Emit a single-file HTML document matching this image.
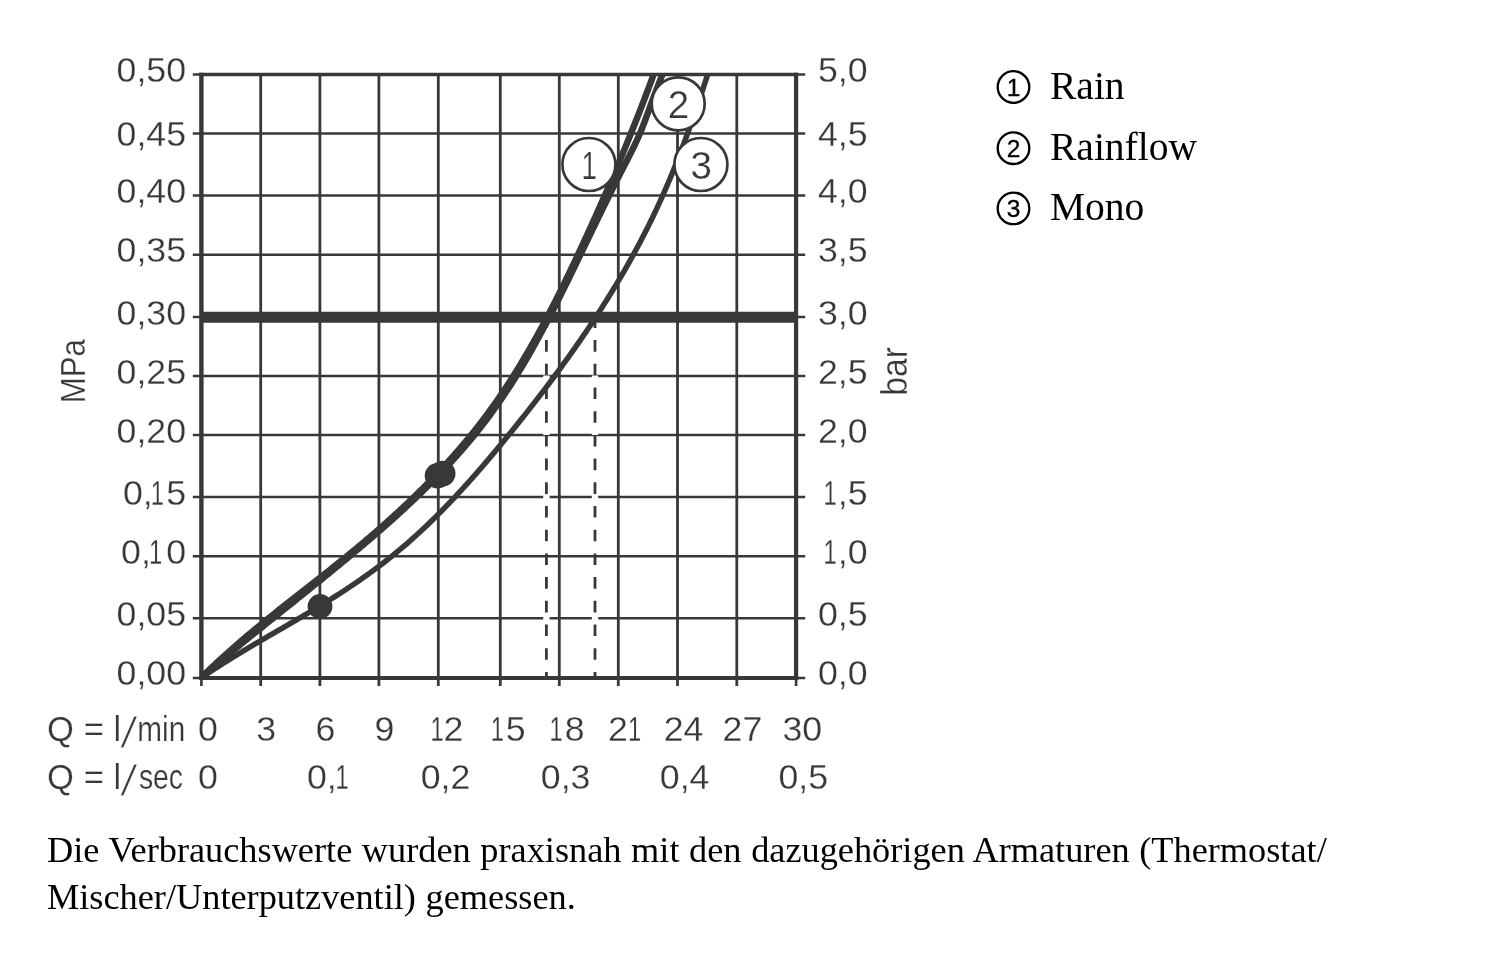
<!DOCTYPE html>
<html lang="de"><head><meta charset="utf-8"><title>Durchflussdiagramm</title>
<style>
html,body{margin:0;padding:0;background:#fff}
body{width:1500px;height:956px;position:relative;overflow:hidden}
svg,.note{filter:grayscale(1)}
.note{position:absolute;left:47px;top:826.8px;margin:0;width:1400px;font-family:"Liberation Serif",serif;font-size:36.3px;word-spacing:0.55px;line-height:47.2px;color:#000;white-space:nowrap}
</style></head><body>
<svg width="1500" height="956" viewBox="0 0 1500 956" style="position:absolute;left:0;top:0">
<g fill="none" stroke="#383838" stroke-linecap="butt">
<line x1="260.7" y1="74.5" x2="260.7" y2="686" stroke-width="2.8"/>
<line x1="319.9" y1="74.5" x2="319.9" y2="686" stroke-width="2.8"/>
<line x1="378.9" y1="74.5" x2="378.9" y2="686" stroke-width="2.8"/>
<line x1="438.3" y1="74.5" x2="438.3" y2="686" stroke-width="2.8"/>
<line x1="500.3" y1="74.5" x2="500.3" y2="686" stroke-width="2.8"/>
<line x1="559.3" y1="74.5" x2="559.3" y2="686" stroke-width="2.8"/>
<line x1="618.3" y1="74.5" x2="618.3" y2="686" stroke-width="2.8"/>
<line x1="677.5" y1="74.5" x2="677.5" y2="686" stroke-width="2.8"/>
<line x1="736.8" y1="74.5" x2="736.8" y2="686" stroke-width="2.8"/>
<line x1="192.8" y1="133.4" x2="805.2" y2="133.4" stroke-width="2.5"/>
<line x1="192.8" y1="195.6" x2="805.2" y2="195.6" stroke-width="2.5"/>
<line x1="192.8" y1="254.7" x2="805.2" y2="254.7" stroke-width="2.5"/>
<line x1="192.8" y1="376.1" x2="805.2" y2="376.1" stroke-width="2.5"/>
<line x1="192.8" y1="435.1" x2="805.2" y2="435.1" stroke-width="2.5"/>
<line x1="192.8" y1="497.1" x2="805.2" y2="497.1" stroke-width="2.5"/>
<line x1="192.8" y1="556.3" x2="805.2" y2="556.3" stroke-width="2.5"/>
<line x1="192.8" y1="618.3" x2="805.2" y2="618.3" stroke-width="2.5"/>
<line x1="192.8" y1="74.5" x2="805.2" y2="74.5" stroke-width="2.4"/>
<line x1="192.8" y1="317.0" x2="805.2" y2="317.0" stroke-width="2.4"/>
<line x1="192.8" y1="678.0" x2="805.2" y2="678.0" stroke-width="2.4"/>
<line x1="201.4" y1="72.7" x2="201.4" y2="679.9" stroke-width="4.4"/>
<line x1="796.1" y1="72.7" x2="796.1" y2="679.9" stroke-width="4.2"/>
<line x1="201.4" y1="678.0" x2="201.4" y2="686" stroke-width="2.6"/>
<line x1="796.1" y1="678.0" x2="796.1" y2="686" stroke-width="2.6"/>
<line x1="199.20000000000002" y1="74.5" x2="798.2" y2="74.5" stroke-width="3.6"/>
<line x1="199.20000000000002" y1="678.0" x2="798.2" y2="678.0" stroke-width="3.8"/>
<line x1="546.4" y1="316.4" x2="546.4" y2="677" stroke-width="2.8"/>
<line x1="546.4" y1="316.4" x2="546.4" y2="676" stroke="#fff" stroke-width="6.4" stroke-dasharray="12.1 11.6" stroke-dashoffset="12.1"/>
<line x1="595.0" y1="316.4" x2="595.0" y2="677" stroke-width="2.8"/>
<line x1="595.0" y1="316.4" x2="595.0" y2="676" stroke="#fff" stroke-width="6.4" stroke-dasharray="12.1 11.6" stroke-dashoffset="12.1"/>
<line x1="201.4" y1="317.2" x2="796.1" y2="317.2" stroke-width="11"/>
</g>
<clipPath id="plot"><rect x="201.4" y="74.5" width="594.7" height="605.4"/></clipPath>
<g fill="none" stroke="#383838" stroke-linejoin="round" stroke-linecap="butt" clip-path="url(#plot)">
<path d="M201.34,677.87 L203.92,676.08 L206.51,674.31 L209.11,672.55 L211.73,670.80 L214.35,669.07 L216.99,667.35 L219.63,665.64 L222.28,663.94 L224.94,662.25 L227.61,660.57 L230.29,658.90 L232.97,657.24 L235.66,655.58 L238.36,653.94 L241.06,652.30 L243.77,650.67 L246.48,649.04 L249.20,647.43 L251.92,645.81 L254.65,644.20 L257.38,642.60 L260.12,641.00 L262.85,639.40 L265.59,637.81 L268.34,636.21 L271.08,634.62 L273.82,633.03 L276.57,631.45 L279.32,629.86 L282.06,628.27 L284.81,626.68 L287.56,625.09 L290.30,623.50 L293.04,621.90 L295.78,620.30 L298.52,618.70 L301.26,617.10 L303.99,615.49 L306.72,613.87 L309.45,612.25 L312.17,610.63 L314.89,609.00 L317.60,607.36 L320.31,605.71 L323.01,604.06 L325.70,602.39 L328.39,600.72 L331.08,599.04 L333.75,597.35 L336.42,595.66 L339.08,593.95 L341.73,592.23 L344.38,590.50 L347.02,588.77 L349.65,587.02 L352.27,585.26 L354.88,583.49 L357.48,581.71 L360.08,579.91 L362.66,578.11 L365.23,576.29 L367.80,574.46 L370.35,572.62 L372.90,570.76 L375.43,568.90 L377.95,567.01 L380.46,565.12 L382.96,563.21 L385.45,561.29 L387.92,559.35 L390.39,557.39 L392.84,555.43 L395.27,553.44 L397.70,551.45 L400.11,549.43 L402.51,547.41 L404.90,545.36 L407.28,543.31 L409.64,541.24 L411.99,539.16 L414.34,537.06 L416.67,534.95 L418.99,532.83 L421.29,530.69 L423.59,528.54 L425.88,526.38 L428.15,524.21 L430.42,522.03 L432.68,519.83 L434.92,517.62 L437.16,515.41 L439.38,513.18 L441.60,510.94 L443.81,508.69 L446.01,506.43 L448.20,504.16 L450.38,501.88 L452.55,499.59 L454.72,497.29 L456.87,494.98 L459.02,492.67 L461.16,490.35 L463.29,488.01 L465.42,485.67 L467.53,483.32 L469.64,480.97 L471.75,478.61 L473.84,476.24 L475.93,473.86 L478.01,471.47 L480.09,469.08 L482.16,466.69 L484.22,464.29 L486.28,461.88 L488.33,459.47 L490.38,457.05 L492.42,454.62 L494.46,452.20 L496.49,449.76 L498.51,447.33 L500.53,444.89 L502.55,442.44 L504.56,439.99 L506.57,437.54 L508.57,435.09 L510.57,432.63 L512.57,430.17 L514.56,427.71 L516.55,425.24 L518.53,422.77 L520.51,420.30 L522.48,417.82 L524.45,415.34 L526.42,412.86 L528.38,410.37 L530.33,407.88 L532.28,405.39 L534.23,402.89 L536.17,400.39 L538.10,397.89 L540.03,395.38 L541.95,392.87 L543.87,390.36 L545.78,387.84 L547.69,385.32 L549.59,382.79 L551.49,380.26 L553.38,377.73 L555.26,375.19 L557.14,372.65 L559.01,370.10 L560.88,367.55 L562.73,365.00 L564.59,362.44 L566.43,359.88 L568.27,357.32 L570.10,354.75 L571.93,352.17 L573.75,349.59 L575.56,347.01 L577.37,344.42 L579.16,341.83 L580.96,339.23 L582.74,336.63 L584.52,334.03 L586.28,331.42 L588.05,328.80 L589.80,326.19 L591.54,323.56 L593.28,320.93 L595.01,318.30 L596.74,315.66 L598.45,313.02 L600.16,310.37 L601.85,307.72 L603.54,305.06 L605.22,302.39 L606.90,299.73 L608.56,297.05 L610.22,294.37 L611.86,291.69 L613.50,289.00 L615.13,286.31 L616.75,283.61 L618.36,280.90 L619.96,278.19 L621.56,275.48 L623.14,272.76 L624.71,270.03 L626.28,267.30 L627.83,264.56 L629.38,261.81 L630.91,259.07 L632.44,256.31 L633.95,253.55 L635.46,250.78 L636.95,248.01 L638.44,245.23 L639.91,242.45 L641.38,239.66 L642.83,236.86 L644.27,234.06 L645.71,231.25 L647.13,228.44 L648.54,225.61 L649.94,222.79 L651.33,219.95 L652.71,217.11 L654.08,214.27 L655.43,211.42 L656.78,208.56 L658.11,205.69 L659.43,202.82 L660.74,199.94 L662.04,197.06 L663.33,194.17 L664.60,191.27 L665.87,188.36 L667.12,185.45 L668.36,182.54 L669.59,179.62 L670.81,176.69 L672.02,173.76 L673.22,170.82 L674.41,167.88 L675.59,164.93 L676.76,161.98 L677.92,159.02 L679.07,156.07 L680.22,153.10 L681.35,150.14 L682.47,147.17 L683.59,144.19 L684.70,141.22 L685.80,138.24 L686.89,135.26 L687.98,132.28 L689.05,129.29 L690.12,126.30 L691.18,123.31 L692.24,120.32 L693.29,117.33 L694.33,114.34 L695.37,111.35 L696.40,108.35 L697.42,105.36 L698.44,102.37 L699.45,99.37 L700.46,96.38 L701.46,93.38 L702.46,90.39 L703.45,87.40 L704.44,84.41 L705.43,81.42 L706.41,78.43 L707.38,75.44 L708.35,72.46 L709.32,69.48 L710.29,66.50" stroke-width="5.5"/>
<path d="M200.88,677.37 L202.77,675.77 L204.65,674.17 L206.54,672.57 L208.43,670.98 L210.32,669.39 L212.22,667.80 L214.11,666.22 L216.00,664.64 L217.90,663.06 L219.79,661.49 L221.69,659.92 L223.59,658.35 L225.49,656.78 L227.39,655.22 L229.28,653.65 L231.19,652.09 L233.09,650.54 L234.99,648.98 L236.89,647.43 L238.79,645.87 L240.70,644.32 L242.60,642.78 L244.51,641.23 L246.41,639.68 L248.32,638.14 L250.22,636.60 L252.13,635.06 L254.03,633.52 L255.94,631.98 L257.85,630.44 L259.76,628.91 L261.66,627.37 L263.57,625.84 L265.48,624.31 L267.39,622.78 L269.30,621.24 L271.21,619.71 L273.11,618.18 L275.02,616.66 L276.93,615.13 L278.84,613.60 L280.75,612.07 L282.66,610.54 L284.57,609.01 L286.47,607.48 L288.38,605.96 L290.29,604.43 L292.20,602.90 L294.10,601.37 L296.01,599.84 L297.92,598.31 L299.83,596.78 L301.73,595.25 L303.64,593.72 L305.54,592.19 L307.45,590.66 L309.35,589.13 L311.26,587.59 L313.16,586.06 L315.06,584.52 L316.96,582.98 L318.87,581.44 L320.77,579.90 L322.67,578.36 L324.57,576.82 L326.47,575.27 L328.36,573.73 L330.26,572.18 L332.16,570.63 L334.05,569.08 L335.95,567.53 L337.84,565.97 L339.73,564.41 L341.63,562.85 L343.52,561.29 L345.41,559.73 L347.30,558.16 L349.18,556.59 L351.07,555.02 L352.95,553.45 L354.84,551.87 L356.72,550.29 L358.60,548.71 L360.48,547.13 L362.36,545.54 L364.24,543.95 L366.11,542.35 L367.98,540.76 L369.85,539.16 L371.72,537.55 L373.59,535.95 L375.45,534.34 L377.31,532.73 L379.17,531.11 L381.03,529.49 L382.88,527.87 L384.73,526.24 L386.58,524.61 L388.42,522.98 L390.26,521.34 L392.10,519.70 L393.93,518.05 L395.76,516.40 L397.59,514.75 L399.41,513.09 L401.23,511.43 L403.04,509.76 L404.85,508.09 L406.66,506.42 L408.46,504.74 L410.25,503.06 L412.05,501.37 L413.83,499.68 L415.62,497.99 L417.40,496.28 L419.17,494.58 L420.94,492.87 L422.70,491.16 L424.46,489.44 L426.21,487.71 L427.96,485.98 L429.70,484.25 L431.43,482.51 L433.16,480.76 L434.89,479.02 L436.60,477.26 L438.32,475.50 L440.02,473.74 L441.72,471.97 L443.41,470.19 L445.10,468.41 L446.78,466.62 L448.45,464.83 L450.11,463.03 L451.77,461.23 L453.42,459.42 L455.07,457.60 L456.70,455.78 L458.33,453.95 L459.95,452.12 L461.57,450.28 L463.17,448.43 L464.77,446.58 L466.36,444.73 L467.94,442.86 L469.52,440.99 L471.08,439.11 L472.64,437.23 L474.19,435.34 L475.73,433.44 L477.26,431.54 L478.78,429.63 L480.30,427.72 L481.80,425.79 L483.30,423.86 L484.78,421.93 L486.26,419.98 L487.73,418.03 L489.18,416.07 L490.63,414.11 L492.07,412.14 L493.50,410.16 L494.92,408.17 L496.33,406.18 L497.73,404.18 L499.13,402.18 L500.51,400.17 L501.89,398.15 L503.26,396.13 L504.62,394.10 L505.97,392.06 L507.31,390.02 L508.65,387.98 L509.98,385.92 L511.30,383.87 L512.61,381.80 L513.91,379.73 L515.21,377.66 L516.50,375.58 L517.78,373.50 L519.06,371.41 L520.33,369.32 L521.59,367.22 L522.85,365.11 L524.10,363.01 L525.34,360.89 L526.57,358.78 L527.80,356.66 L529.03,354.53 L530.25,352.40 L531.46,350.27 L532.66,348.13 L533.87,345.99 L535.06,343.85 L536.25,341.70 L537.43,339.55 L538.61,337.39 L539.79,335.24 L540.96,333.07 L542.12,330.91 L543.28,328.74 L544.44,326.57 L545.59,324.40 L546.73,322.22 L547.88,320.05 L549.01,317.86 L550.15,315.68 L551.28,313.50 L552.40,311.31 L553.53,309.12 L554.64,306.93 L555.76,304.73 L556.87,302.54 L557.98,300.34 L559.09,298.14 L560.19,295.94 L561.29,293.74 L562.39,291.53 L563.48,289.33 L564.58,287.12 L565.67,284.91 L566.75,282.71 L567.84,280.50 L568.92,278.29 L570.00,276.08 L571.08,273.87 L572.16,271.65 L573.24,269.44 L574.31,267.23 L575.39,265.02 L576.46,262.81 L577.53,260.59 L578.60,258.38 L579.67,256.17 L580.74,253.96 L581.81,251.74 L582.87,249.53 L583.94,247.32 L585.01,245.11 L586.08,242.90 L587.14,240.70 L588.21,238.49 L589.28,236.28 L590.34,234.07 L591.41,231.87 L592.48,229.66 L593.55,227.46 L594.61,225.26 L595.68,223.05 L596.75,220.85 L597.83,218.65 L598.90,216.45 L599.97,214.25 L601.05,212.05 L602.12,209.85 L603.20,207.66 L604.28,205.46 L605.36,203.26 L606.44,201.07 L607.53,198.87 L608.61,196.68 L609.70,194.49 L610.79,192.29 L611.88,190.10 L612.98,187.91 L614.07,185.72 L615.17,183.53 L616.28,181.34 L617.38,179.15 L618.49,176.97 L619.60,174.78 L620.71,172.59 L621.83,170.41 L622.95,168.22 L624.08,166.04 L625.20,163.86 L626.33,161.67 L627.45,159.49 L628.57,157.30 L629.68,155.11 L630.79,152.92 L631.89,150.72 L632.98,148.52 L634.05,146.31 L635.11,144.10 L636.16,141.88 L637.19,139.65 L638.20,137.42 L639.18,135.17 L640.15,132.92 L641.09,130.65 L642.01,128.38 L642.91,126.10 L643.79,123.82 L644.66,121.53 L645.53,119.23 L646.38,116.93 L647.23,114.63 L648.07,112.32 L648.92,110.02 L649.76,107.72 L650.61,105.42 L651.46,103.11 L652.32,100.81 L653.18,98.52 L654.04,96.22 L654.90,93.92 L655.77,91.63 L656.65,89.34 L657.53,87.05 L658.41,84.76 L659.30,82.47 L660.19,80.18 L661.09,77.90 L661.99,75.62 L662.90,73.34 L663.81,71.07 L664.74,68.80 L665.66,66.53" stroke-width="6.5"/>
<path d="M201.37,677.67 L203.10,675.94 L204.83,674.22 L206.58,672.51 L208.33,670.81 L210.08,669.11 L211.84,667.43 L213.61,665.75 L215.39,664.08 L217.17,662.41 L218.95,660.75 L220.74,659.10 L222.54,657.45 L224.34,655.81 L226.15,654.18 L227.96,652.56 L229.78,650.93 L231.60,649.32 L233.43,647.71 L235.26,646.11 L237.09,644.51 L238.93,642.92 L240.78,641.33 L242.63,639.75 L244.48,638.17 L246.34,636.59 L248.20,635.03 L250.06,633.46 L251.93,631.90 L253.80,630.34 L255.67,628.79 L257.55,627.24 L259.43,625.70 L261.32,624.16 L263.20,622.62 L265.09,621.08 L266.98,619.55 L268.88,618.02 L270.78,616.49 L272.67,614.97 L274.58,613.45 L276.48,611.93 L278.38,610.41 L280.29,608.90 L282.20,607.38 L284.11,605.87 L286.02,604.36 L287.93,602.85 L289.85,601.34 L291.76,599.84 L293.68,598.33 L295.60,596.82 L297.51,595.32 L299.43,593.82 L301.35,592.31 L303.27,590.81 L305.19,589.30 L307.11,587.80 L309.03,586.30 L310.95,584.79 L312.87,583.29 L314.79,581.78 L316.70,580.27 L318.62,578.76 L320.54,577.25 L322.46,575.74 L324.37,574.23 L326.29,572.72 L328.20,571.20 L330.11,569.68 L332.02,568.17 L333.93,566.64 L335.84,565.12 L337.74,563.59 L339.65,562.06 L341.55,560.53 L343.45,558.99 L345.35,557.46 L347.24,555.91 L349.13,554.37 L351.02,552.82 L352.91,551.27 L354.79,549.71 L356.68,548.15 L358.56,546.59 L360.43,545.02 L362.30,543.45 L364.17,541.87 L366.04,540.29 L367.90,538.71 L369.76,537.12 L371.62,535.53 L373.47,533.94 L375.32,532.34 L377.17,530.73 L379.01,529.13 L380.85,527.51 L382.68,525.90 L384.51,524.28 L386.34,522.65 L388.16,521.02 L389.98,519.39 L391.79,517.75 L393.60,516.11 L395.41,514.46 L397.21,512.81 L399.01,511.16 L400.80,509.50 L402.58,507.83 L404.37,506.16 L406.14,504.49 L407.92,502.81 L409.69,501.13 L411.45,499.44 L413.21,497.74 L414.96,496.05 L416.71,494.34 L418.45,492.64 L420.19,490.92 L421.92,489.21 L423.64,487.48 L425.36,485.76 L427.08,484.02 L428.79,482.29 L430.49,480.55 L432.19,478.80 L433.88,477.04 L435.56,475.29 L437.24,473.52 L438.92,471.76 L440.58,469.98 L442.24,468.20 L443.90,466.42 L445.54,464.63 L447.19,462.83 L448.82,461.03 L450.45,459.23 L452.07,457.41 L453.68,455.60 L455.29,453.77 L456.89,451.95 L458.48,450.11 L460.07,448.27 L461.65,446.43 L463.22,444.57 L464.79,442.72 L466.34,440.85 L467.89,438.99 L469.44,437.11 L470.97,435.23 L472.50,433.34 L474.02,431.45 L475.53,429.55 L477.03,427.65 L478.53,425.74 L480.01,423.82 L481.49,421.90 L482.96,419.97 L484.43,418.03 L485.88,416.09 L487.33,414.15 L488.77,412.19 L490.20,410.23 L491.62,408.27 L493.03,406.29 L494.44,404.32 L495.83,402.33 L497.22,400.34 L498.60,398.35 L499.98,396.35 L501.35,394.34 L502.70,392.33 L504.06,390.31 L505.40,388.29 L506.74,386.26 L508.07,384.23 L509.39,382.19 L510.71,380.15 L512.01,378.10 L513.32,376.05 L514.61,373.99 L515.90,371.92 L517.18,369.86 L518.46,367.79 L519.72,365.71 L520.99,363.63 L522.24,361.54 L523.49,359.45 L524.73,357.36 L525.97,355.26 L527.20,353.16 L528.43,351.05 L529.65,348.94 L530.86,346.83 L532.07,344.71 L533.27,342.59 L534.47,340.46 L535.66,338.33 L536.84,336.20 L538.02,334.07 L539.20,331.93 L540.37,329.78 L541.53,327.64 L542.69,325.49 L543.85,323.34 L545.00,321.18 L546.14,319.02 L547.28,316.86 L548.42,314.70 L549.55,312.53 L550.67,310.36 L551.80,308.19 L552.91,306.01 L554.03,303.84 L555.14,301.66 L556.24,299.48 L557.34,297.29 L558.44,295.10 L559.53,292.92 L560.62,290.73 L561.71,288.53 L562.79,286.34 L563.87,284.14 L564.95,281.94 L566.02,279.74 L567.09,277.54 L568.15,275.34 L569.22,273.14 L570.27,270.93 L571.33,268.72 L572.38,266.51 L573.44,264.30 L574.48,262.09 L575.53,259.88 L576.57,257.67 L577.61,255.46 L578.65,253.24 L579.68,251.03 L580.72,248.81 L581.75,246.59 L582.77,244.38 L583.80,242.16 L584.82,239.94 L585.85,237.72 L586.87,235.50 L587.88,233.28 L588.90,231.06 L589.91,228.84 L590.92,226.62 L591.93,224.40 L592.94,222.17 L593.95,219.95 L594.95,217.73 L595.95,215.50 L596.95,213.27 L597.94,211.05 L598.93,208.82 L599.93,206.59 L600.91,204.36 L601.90,202.13 L602.89,199.90 L603.87,197.67 L604.85,195.44 L605.82,193.21 L606.80,190.98 L607.77,188.74 L608.74,186.51 L609.71,184.27 L610.68,182.03 L611.64,179.80 L612.60,177.56 L613.56,175.32 L614.51,173.08 L615.47,170.84 L616.42,168.59 L617.37,166.35 L618.31,164.11 L619.26,161.86 L620.20,159.61 L621.14,157.37 L622.07,155.12 L623.01,152.87 L623.94,150.62 L624.86,148.37 L625.79,146.11 L626.71,143.86 L627.64,141.61 L628.55,139.35 L629.47,137.09 L630.38,134.83 L631.29,132.57 L632.20,130.31 L633.11,128.05 L634.01,125.79 L634.91,123.53 L635.81,121.26 L636.70,118.99 L637.59,116.73 L638.48,114.46 L639.37,112.19 L640.25,109.91 L641.13,107.64 L642.01,105.37 L642.89,103.09 L643.76,100.81 L644.63,98.54 L645.50,96.26 L646.36,93.97 L647.22,91.69 L648.08,89.41 L648.94,87.12 L649.79,84.84 L650.64,82.55 L651.49,80.26 L652.33,77.97 L653.18,75.67 L654.02,73.38 L654.85,71.08 L655.68,68.79 L656.52,66.49" stroke-width="6.5"/>
</g>
<g fill="#383838">
<circle cx="437.5" cy="475.8" r="12.8"/><circle cx="442.7" cy="473.6" r="12.8"/>
<circle cx="320.0" cy="606.4" r="12.4"/>
</g>
<g fill="#fff" stroke="#383838" stroke-width="2.7">
<circle cx="588.9" cy="164.5" r="26.5"/>
<circle cx="678.2" cy="103.8" r="26.5"/>
<circle cx="700.9" cy="164.5" r="26.5"/>
</g>
<g fill="#383838" stroke="#fff" stroke-width="0.25" font-family="'Liberation Sans', sans-serif" font-size="35">
<text transform="translate(589.20,178.70) scale(0.72,1)" text-anchor="middle" font-size="38.5">1</text>
<text transform="translate(678.50,118.00) scale(1.0,1)" text-anchor="middle" font-size="38.5">2</text>
<text transform="translate(701.20,178.70) scale(1.0,1)" text-anchor="middle" font-size="38.5">3</text>
<text transform="translate(186.00,82.40) scale(1.02,1)" text-anchor="end">0,50</text>
<text transform="translate(186.00,146.10) scale(1.02,1)" text-anchor="end">0,45</text>
<text transform="translate(186.00,203.40) scale(1.02,1)" text-anchor="end">0,40</text>
<text transform="translate(186.00,262.40) scale(1.02,1)" text-anchor="end">0,35</text>
<text transform="translate(186.00,324.50) scale(1.02,1)" text-anchor="end">0,30</text>
<text transform="translate(186.00,383.50) scale(1.02,1)" text-anchor="end">0,25</text>
<text transform="translate(186.00,442.70) scale(1.02,1)" text-anchor="end">0,20</text>
<g><text transform="translate(122.90,505.30) scale(1.02,1)" text-anchor="start">0,</text><text transform="translate(157.30,505.30) scale(0.68,1)" text-anchor="middle">1</text><text transform="translate(186.00,505.30) scale(1.02,1)" text-anchor="end">5</text></g>
<g><text transform="translate(121.10,564.30) scale(1.02,1)" text-anchor="start">0,</text><text transform="translate(155.50,564.30) scale(0.68,1)" text-anchor="middle">1</text><text transform="translate(186.00,564.30) scale(1.02,1)" text-anchor="end">0</text></g>
<text transform="translate(186.00,626.40) scale(1.02,1)" text-anchor="end">0,05</text>
<text transform="translate(186.00,685.20) scale(1.02,1)" text-anchor="end">0,00</text>
<text transform="translate(867.50,82.40) scale(1.02,1)" text-anchor="end">5,0</text>
<text transform="translate(867.50,146.10) scale(1.02,1)" text-anchor="end">4,5</text>
<text transform="translate(867.50,203.40) scale(1.02,1)" text-anchor="end">4,0</text>
<text transform="translate(867.50,262.40) scale(1.02,1)" text-anchor="end">3,5</text>
<text transform="translate(867.50,324.50) scale(1.02,1)" text-anchor="end">3,0</text>
<text transform="translate(867.50,383.50) scale(1.02,1)" text-anchor="end">2,5</text>
<text transform="translate(867.50,442.70) scale(1.02,1)" text-anchor="end">2,0</text>
<g><text transform="translate(830.00,505.30) scale(0.68,1)" text-anchor="middle">1</text><text transform="translate(867.50,505.30) scale(1.02,1)" text-anchor="end">,5</text></g>
<g><text transform="translate(830.00,564.30) scale(0.68,1)" text-anchor="middle">1</text><text transform="translate(867.50,564.30) scale(1.02,1)" text-anchor="end">,0</text></g>
<text transform="translate(867.50,626.40) scale(1.02,1)" text-anchor="end">0,5</text>
<text transform="translate(867.50,685.20) scale(1.02,1)" text-anchor="end">0,0</text>
<text transform="translate(85,403.2) rotate(-90) scale(0.89,1)" font-size="35">MPa</text>
<text transform="translate(906.5,395.7) rotate(-90) scale(0.96,1.05)" font-size="35">bar</text>
<g><text transform="translate(47.10,741.30) scale(0.99,1)" text-anchor="start">Q = l</text><text transform="translate(120.7,747.20) skewX(-12) scale(1,1.2)">/</text><text transform="translate(185.20,741.30) scale(0.85,1)" text-anchor="end">min</text></g>
<text transform="translate(207.80,741.30) scale(1.02,1)" text-anchor="middle">0</text>
<text transform="translate(266.20,741.30) scale(1.02,1)" text-anchor="middle">3</text>
<text transform="translate(325.40,741.30) scale(1.02,1)" text-anchor="middle">6</text>
<text transform="translate(384.40,741.30) scale(1.02,1)" text-anchor="middle">9</text>
<g><text transform="translate(437.00,741.30) scale(0.68,1)" text-anchor="middle">1</text><text transform="translate(453.50,741.30) scale(1.02,1)" text-anchor="middle">2</text></g>
<g><text transform="translate(497.40,741.30) scale(0.68,1)" text-anchor="middle">1</text><text transform="translate(515.70,741.30) scale(1.02,1)" text-anchor="middle">5</text></g>
<g><text transform="translate(556.20,741.30) scale(0.68,1)" text-anchor="middle">1</text><text transform="translate(574.60,741.30) scale(1.02,1)" text-anchor="middle">8</text></g>
<g><text transform="translate(618.00,741.30) scale(1.02,1)" text-anchor="middle">2</text><text transform="translate(634.50,741.30) scale(0.68,1)" text-anchor="middle">1</text></g>
<text transform="translate(683.50,741.30) scale(1.02,1)" text-anchor="middle">24</text>
<text transform="translate(742.40,741.30) scale(1.02,1)" text-anchor="middle">27</text>
<text transform="translate(802.30,741.30) scale(1.02,1)" text-anchor="middle">30</text>
<g><text transform="translate(47.10,788.70) scale(0.99,1)" text-anchor="start">Q = l</text><text transform="translate(120.7,794.60) skewX(-12) scale(1,1.2)">/</text><text transform="translate(183.00,788.70) scale(0.81,1)" text-anchor="end">sec</text></g>
<text transform="translate(207.80,788.70) scale(1.02,1)" text-anchor="middle">0</text>
<g><text transform="translate(307.00,788.70) scale(1.02,1)" text-anchor="start">0,</text><text transform="translate(342.00,788.70) scale(0.68,1)" text-anchor="middle">1</text></g>
<text transform="translate(445.50,788.70) scale(1.02,1)" text-anchor="middle">0,2</text>
<text transform="translate(565.60,788.70) scale(1.02,1)" text-anchor="middle">0,3</text>
<text transform="translate(684.60,788.70) scale(1.02,1)" text-anchor="middle">0,4</text>
<text transform="translate(803.20,788.70) scale(1.02,1)" text-anchor="middle">0,5</text>
</g>
<g fill="#000">
<g><circle cx="1013.5" cy="87.0" r="15.8" fill="none" stroke="#000" stroke-width="2.3"/><text x="1013.5" y="95.7" font-family="'Liberation Sans', sans-serif" font-size="24.5" stroke="#000" stroke-width="0.35" text-anchor="middle">1</text> <text x="1050" y="99.3" font-family="'Liberation Serif', serif" font-size="39.5">Rain</text></g>
<g><circle cx="1013.5" cy="148.2" r="15.8" fill="none" stroke="#000" stroke-width="2.3"/><text x="1013.5" y="156.89999999999998" font-family="'Liberation Sans', sans-serif" font-size="24.5" stroke="#000" stroke-width="0.35" text-anchor="middle">2</text> <text x="1050" y="159.7" font-family="'Liberation Serif', serif" font-size="39.5">Rainflow</text></g>
<g><circle cx="1013.5" cy="208.4" r="15.8" fill="none" stroke="#000" stroke-width="2.3"/><text x="1013.5" y="217.1" font-family="'Liberation Sans', sans-serif" font-size="24.5" stroke="#000" stroke-width="0.35" text-anchor="middle">3</text> <text x="1050" y="220.3" font-family="'Liberation Serif', serif" font-size="39.5">Mono</text></g>
</g>
</svg>
<p class="note">Die Verbrauchswerte wurden praxisnah mit den dazugehörigen Armaturen (Thermostat/<br>Mischer/Unterputzventil) gemessen.</p>
</body></html>
